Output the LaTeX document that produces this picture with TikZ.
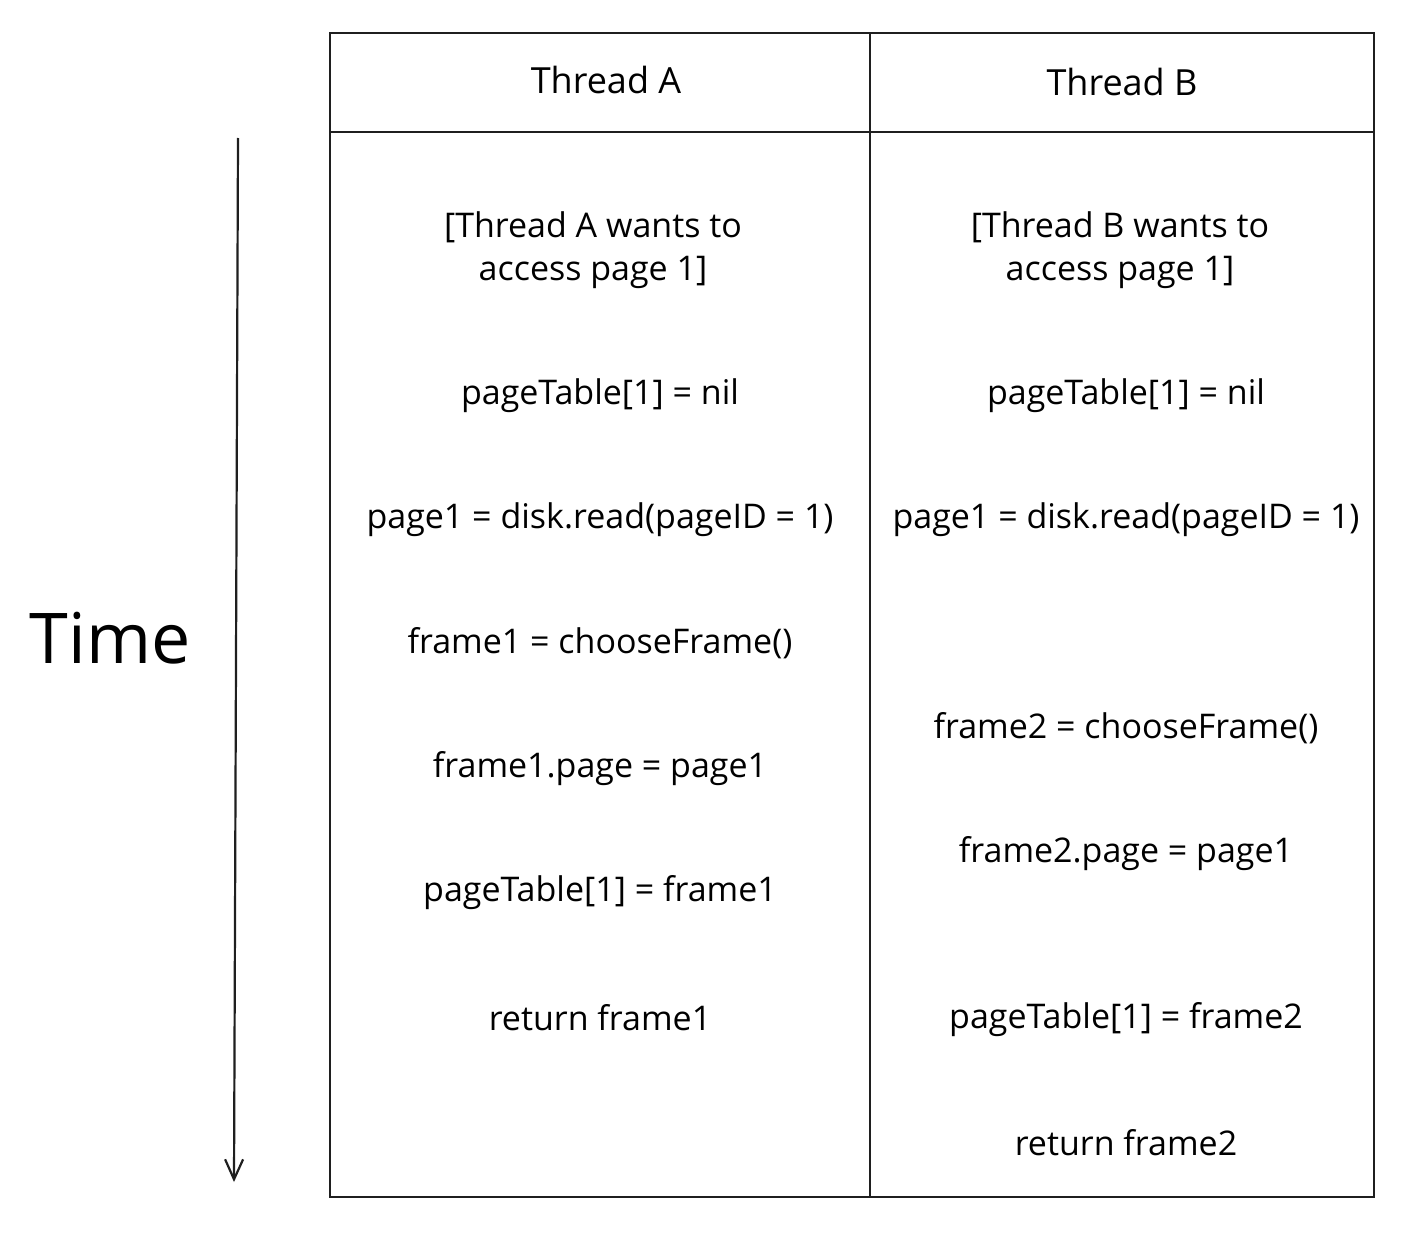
\documentclass[tikz,border=0pt]{standalone}
\usepackage{fontspec}
\setmainfont{Open Sans}
\usetikzlibrary{arrows.meta}
\tikzset{
  grid/.style={line width=2.6pt, draw=black!88},
  step text/.style={font=\fontsize{34}{43}\selectfont, align=center, inner sep=0pt},
  head text/.style={font=\fontsize{36}{40}\selectfont, inner sep=0pt},
}
\begin{document}
\begin{tikzpicture}[x=1pt,y=-1pt]
  \useasboundingbox (0,0) rectangle (1418,1236);
  % table
  \draw[grid] (330,33) rectangle (1374,1197);
  \draw[grid] (870,33) -- (870,1197);
  \draw[grid] (330,132) -- (1374,132);
  % headers
  \node[head text] (headA) at (606,80) {Thread A};
  \node[head text] (headB) at (1122,82) {Thread B};
  % time axis
  \coordinate (t0) at (238,138);
  \coordinate (t1) at (234,1182);
  \draw[line width=2.2pt, draw=black!88, -{Straight Barb[length=20pt,width=18pt]}] (t0) -- (t1);
  \node[font=\fontsize{70}{74}\selectfont, inner sep=0pt] (time) at (110,638) {Time};
  % thread A
  \node[step text] (a0) at (593,250) {[Thread A wants to\\access page 1]};
  \node[step text] (a1) at (600,396) {pageTable[1] = nil};
  \node[step text] (a2) at (600,520) {page1 = disk.read(pageID = 1)};
  \node[step text] (a3) at (600,643) {frame1 = chooseFrame()};
  \node[step text] (a4) at (600,769) {frame1.page = page1};
  \node[step text] (a5) at (600,893) {pageTable[1] = frame1};
  \node[step text] (a6) at (600,1018) {return frame1};
  % thread B
  \node[step text] (b0) at (1120,250) {[Thread B wants to\\access page 1]};
  \node[step text] (b1) at (1126,396) {pageTable[1] = nil};
  \node[step text] (b2) at (1126,520) {page1 = disk.read(pageID = 1)};
  \node[step text] (b3) at (1126,728) {frame2 = chooseFrame()};
  \node[step text] (b4) at (1126,854) {frame2.page = page1};
  \node[step text] (b5) at (1126,1020) {pageTable[1] = frame2};
  \node[step text] (b6) at (1126,1143) {return frame2};
\end{tikzpicture}
\end{document}
